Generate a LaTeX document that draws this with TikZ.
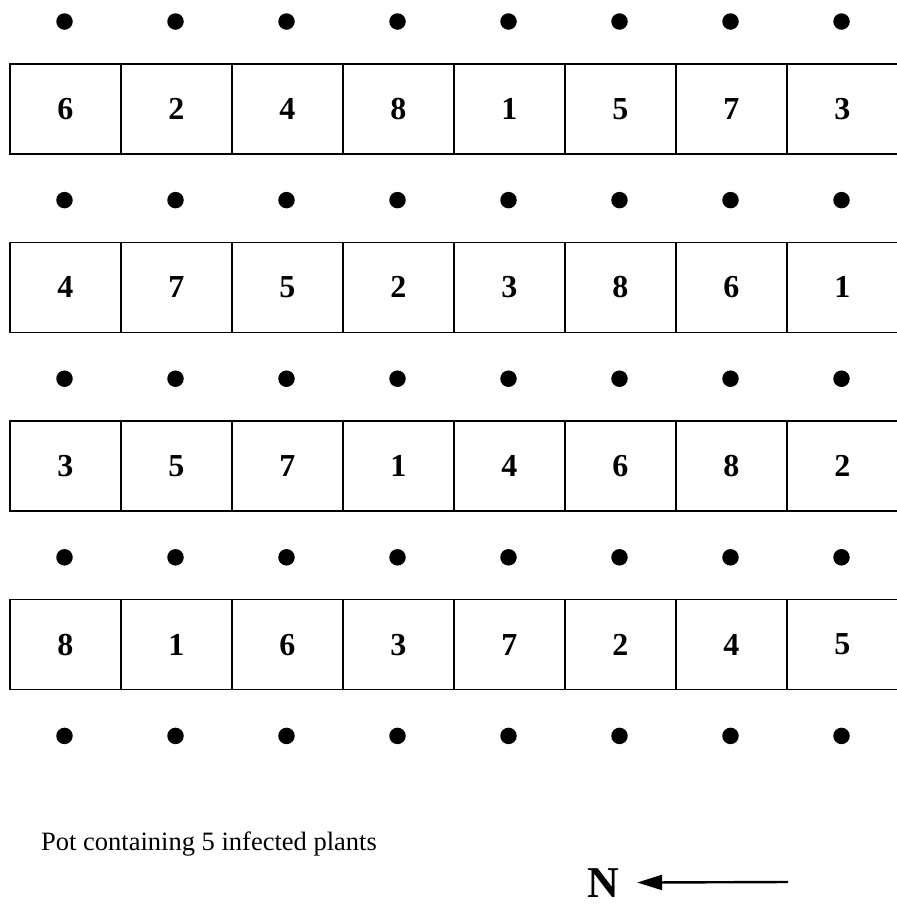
\documentclass[tikz,border=0pt]{standalone}
\usepackage{fontspec}
\setmainfont{Liberation Serif}
\usetikzlibrary{arrows.meta}
\begin{document}
\begin{tikzpicture}[x=1pt,y=-1pt,
  cellbox/.style={draw,line width=1.6pt,minimum width=111pt,minimum height=90pt,inner sep=0pt,anchor=north west,font=\fontsize{32}{36}\selectfont\bfseries},
  pot/.style={circle,fill=black,minimum size=16.5pt,inner sep=0pt},
  northarrow/.style={line width=2.4pt,-{Triangle[length=25pt,width=15pt]},shorten >=18pt}]
\useasboundingbox (0,0) rectangle (897,911);
\clip (0,0) rectangle (897,911);
\def\rowA{{6,2,4,8,1,5,7,3}}
\def\rowB{{4,7,5,2,3,8,6,1}}
\def\rowC{{3,5,7,1,4,6,8,2}}
\def\rowD{{8,1,6,3,7,2,4,5}}
% pots
\foreach \r in {0,...,4}{
  \foreach \c in {0,...,7}{
    \node[pot] (p\r\c) at ({64.5+111*\c},{21.5+178.6*\r}) {};
  }
}
% plots
\foreach \c in {0,...,7}{
  \pgfmathtruncatemacro\va{\rowA[\c]}
  \pgfmathtruncatemacro\vb{\rowB[\c]}
  \pgfmathtruncatemacro\vc{\rowC[\c]}
  \pgfmathtruncatemacro\vd{\rowD[\c]}
  \node[cellbox] (a\c) at ({9+111*\c},63) {\va};
  \node[cellbox] (b\c) at ({9+111*\c},241.6) {\vb};
  \node[cellbox] (c\c) at ({9+111*\c},420.2) {\vc};
  \node[cellbox] (d\c) at ({9+111*\c},598.8) {\vd};
}
\node[anchor=base west,inner sep=0pt,font=\fontsize{26.5}{30}\selectfont] (legend) at (41,850) {Pot containing 5 infected plants};
\node[anchor=base west,inner sep=0pt,font=\fontsize{44}{48}\selectfont\bfseries] (N) at (587,897) {N};
\coordinate (tail) at (788,882);
\draw[northarrow] (tail) -- (N.east);
\end{tikzpicture}
\end{document}
